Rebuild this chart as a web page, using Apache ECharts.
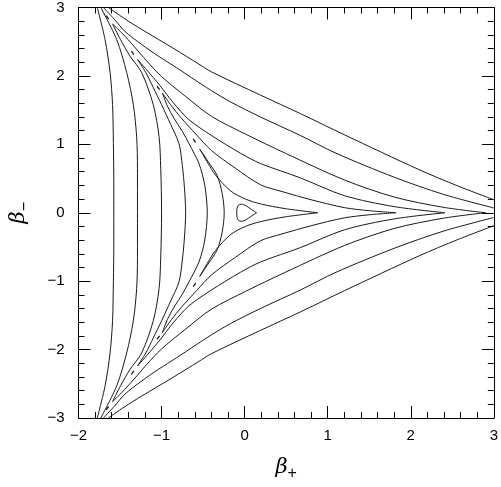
<!DOCTYPE html>
<html>
<head>
<meta charset="utf-8" />
<title>beta contours</title>
<script src="https://cdn.jsdelivr.net/npm/echarts@6/dist/echarts.min.js"></script>
<style>
  html, body { margin: 0; padding: 0; background: #fff; }
  #chart { width: 501px; height: 487px; }
</style>
</head>
<body>
<div id="chart"></div>
<script>
// axis ranges / ticks
var xRange = [-2, 3];
var yRange = [-3, 3];

// contour pieces, [beta+, beta-]
// smallest closed loop round the minimum
var loop1 = [[0.143,0],[0.08,0.05],[0.02,0.10],[-0.04,0.125],[-0.075,0.11],[-0.092,0.06],[-0.095,0],
  [-0.092,-0.06],[-0.075,-0.11],[-0.04,-0.125],[0.02,-0.10],[0.08,-0.05],[0.143,0]];

// upper right walls (from top / channel tip towards the right)
var wallA = [[-1.64,3.0],[-1.45,2.84],[-1.24,2.68],[-0.84,2.39],[-0.56,2.18],[-0.40,2.06],[0.19,1.72],[0.67,1.45],[1.20,1.14],[2.10,0.63],[2.57,0.39],[3.0,0.19]];
var wallB = [[-1.70,3.0],[-1.57,2.83],[-1.44,2.65],[-1.24,2.46],[-1.04,2.29],[-0.82,2.12],[-0.64,1.975],[-0.40,1.785],[-0.17,1.62],[0.19,1.40],[0.67,1.13],[1.10,0.87],[1.80,0.52],[2.39,0.27],[3.0,0.07]];
var wallC = [[-1.59,2.76],[-1.48,2.63],[-1.33,2.43],[-1.18,2.22],[-1.00,1.99],[-0.72,1.71],[-0.40,1.41],[0.01,1.15],[0.49,0.87],[1.20,0.48],[1.80,0.23],[2.39,0.08],[2.90,0.0]];
var wallD = [[-1.29,2.24],[-1.18,2.09],[-1.02,1.86],[-0.86,1.61],[-0.67,1.36],[-0.40,1.13],[-0.05,0.87],[0.19,0.72],[0.67,0.51],[1.20,0.25],[1.80,0.09],[2.41,0.0]];
var wallE = [[-0.99,1.75],[-0.88,1.56],[-0.76,1.38],[-0.58,1.14],[-0.40,0.91],[-0.11,0.65],[0.19,0.41],[0.45,0.31],[0.80,0.19],[1.20,0.075],[1.50,0.03],[1.82,0.0]];
var wallF = [[-0.54,0.93],[-0.44,0.72],[-0.35,0.55],[-0.17,0.32],[0.01,0.20],[0.19,0.13],[0.49,0.06],[0.88,0.0]];

// lower right walls
var wallA2 = [[-1.64,-3.0],[-1.45,-2.84],[-1.24,-2.68],[-0.84,-2.39],[-0.56,-2.18],[-0.40,-2.06],[0.19,-1.72],[0.67,-1.45],[1.20,-1.14],[2.10,-0.63],[2.57,-0.39],[3.0,-0.19]];
var wallB2 = [[-1.70,-3.0],[-1.57,-2.83],[-1.44,-2.65],[-1.24,-2.46],[-1.04,-2.29],[-0.82,-2.12],[-0.64,-1.975],[-0.40,-1.785],[-0.17,-1.62],[0.19,-1.40],[0.67,-1.13],[1.10,-0.87],[1.80,-0.52],[2.39,-0.27],[3.0,-0.07]];
var wallC2 = [[-1.59,-2.76],[-1.48,-2.63],[-1.33,-2.43],[-1.18,-2.22],[-1.00,-1.99],[-0.72,-1.71],[-0.40,-1.41],[0.01,-1.15],[0.49,-0.87],[1.20,-0.48],[1.80,-0.23],[2.39,-0.08],[2.90,0.0]];
var wallD2 = [[-1.29,-2.24],[-1.18,-2.09],[-1.02,-1.86],[-0.86,-1.61],[-0.67,-1.36],[-0.40,-1.13],[-0.05,-0.87],[0.19,-0.72],[0.67,-0.51],[1.20,-0.25],[1.80,-0.09],[2.41,0.0]];
var wallE2 = [[-0.99,-1.75],[-0.88,-1.56],[-0.76,-1.38],[-0.58,-1.14],[-0.40,-0.91],[-0.11,-0.65],[0.19,-0.41],[0.45,-0.31],[0.80,-0.19],[1.20,-0.075],[1.50,-0.03],[1.82,0.0]];
var wallF2 = [[-0.54,-0.93],[-0.44,-0.72],[-0.35,-0.55],[-0.17,-0.32],[0.01,-0.20],[0.19,-0.13],[0.49,-0.06],[0.88,0.0]];

// left walls, top to bottom
var left1 = [[-1.774,3.0],[-1.68,2.53],[-1.62,2.05],[-1.59,1.58],[-1.58,1.01],[-1.575,0.44],[-1.575,0],[-1.575,-0.44],[-1.58,-1.01],[-1.59,-1.58],[-1.62,-2.05],[-1.68,-2.53],[-1.774,-3.0]];
var left2 = [[-1.732,3.0],[-1.54,2.53],[-1.42,2.05],[-1.34,1.58],[-1.30,1.11],[-1.29,0.65],[-1.29,0],[-1.29,-0.65],[-1.30,-1.11],[-1.34,-1.58],[-1.42,-2.05],[-1.54,-2.53],[-1.732,-3.0]];
var left3 = [[-1.59,2.76],[-1.494,2.53],[-1.38,2.29],[-1.24,2.05],[-1.10,1.58],[-1.03,1.11],[-1.01,0.65],[-1.0,0],[-1.01,-0.65],[-1.03,-1.11],[-1.10,-1.58],[-1.24,-2.05],[-1.38,-2.29],[-1.494,-2.53],[-1.59,-2.76]];
var left4 = [[-1.29,2.24],[-1.19,2.05],[-1.10,1.83],[-1.00,1.58],[-0.89,1.29],[-0.79,1.01],[-0.75,0.69],[-0.725,0.37],[-0.71,0],[-0.725,-0.37],[-0.75,-0.69],[-0.79,-1.01],[-0.89,-1.29],[-1.00,-1.58],[-1.10,-1.83],[-1.19,-2.05],[-1.29,-2.24]];
var left5 = [[-0.99,1.75],[-0.93,1.56],[-0.85,1.38],[-0.75,1.19],[-0.67,1.01],[-0.55,0.72],[-0.48,0.40],[-0.45,0],[-0.48,-0.40],[-0.55,-0.72],[-0.67,-1.01],[-0.75,-1.19],[-0.85,-1.38],[-0.93,-1.56],[-0.99,-1.75]];
var left6 = [[-0.54,0.93],[-0.44,0.75],[-0.33,0.54],[-0.27,0.28],[-0.246,0],[-0.27,-0.28],[-0.33,-0.54],[-0.44,-0.75],[-0.54,-0.93]];

// little dashes left beyond the tips in the two slanted channels
var dashes = [
  [[-1.667,2.882],[-1.637,2.832]], [[-1.363,2.362],[-1.333,2.312]],
  [[-1.054,1.849],[-1.024,1.799]], [[-0.619,1.080],[-0.589,1.030]],
  [[-1.667,-2.882],[-1.637,-2.832]], [[-1.363,-2.362],[-1.333,-2.312]],
  [[-1.054,-1.849],[-1.024,-1.799]], [[-0.619,-1.080],[-0.589,-1.030]]
];

var curves = [loop1, wallA, wallB, wallC, wallD, wallE, wallF,
  wallA2, wallB2, wallC2, wallD2, wallE2, wallF2,
  left1, left2, left3, left4, left5, left6];

var fontName = 'Liberation Sans';
function minus(v) { return String(v).replace('-', '\u2212'); }

var series = [];
for (var i = 0; i < curves.length; i++) {
  series.push({
    type: 'line', data: curves[i], showSymbol: false, smooth: 0.3,
    lineStyle: { color: '#1a1a1a', width: 1 }, silent: true
  });
}
for (var j = 0; j < dashes.length; j++) {
  series.push({
    type: 'line', data: dashes[j], showSymbol: false,
    lineStyle: { color: '#1a1a1a', width: 1.3 }, silent: true
  });
}

var nameRich = {
  b: { fontSize: 21, fontFamily: 'DejaVu Serif', fontStyle: 'italic', color: '#000' },
  s: { fontSize: 16, fontFamily: fontName, color: '#000', padding: [12, 0, 0, 0] }
};

function xAx(pos, showLabel) {
  return {
    type: 'value', position: pos, min: xRange[0], max: xRange[1], interval: 1,
    axisLine: { show: true, onZero: false, lineStyle: { color: '#000', width: 1 } },
    axisTick: { show: true, inside: true, length: 12, lineStyle: { color: '#000' } },
    minorTick: { show: true, splitNumber: 5, length: 6, lineStyle: { color: '#000' } },
    splitLine: { show: false },
    axisLabel: { show: showLabel, color: '#000', fontSize: 15, fontFamily: fontName, margin: 10, formatter: minus },
    name: showLabel ? '{b|\u03b2}{s|+}' : '',
    nameLocation: 'middle', nameGap: 36,
    nameTextStyle: { rich: nameRich }
  };
}
function yAx(pos, showLabel) {
  return {
    type: 'value', position: pos, min: yRange[0], max: yRange[1], interval: 1,
    axisLine: { show: true, onZero: false, lineStyle: { color: '#000', width: 1 } },
    axisTick: { show: true, inside: true, length: 12, lineStyle: { color: '#000' } },
    minorTick: { show: true, splitNumber: 5, length: 6, lineStyle: { color: '#000' } },
    splitLine: { show: false },
    axisLabel: { show: showLabel, color: '#000', fontSize: 15, fontFamily: fontName, margin: 14, formatter: minus },
    name: showLabel ? '{b|\u03b2}{s|\u2212}' : '',
    nameLocation: 'middle', nameGap: 46, nameRotate: 90,
    nameTextStyle: { rich: nameRich }
  };
}

var chart = echarts.init(document.getElementById('chart'), null, { renderer: 'canvas' });
chart.setOption({
  animation: false,
  backgroundColor: '#fff',
  grid: { left: 76, right: 5, top: 1, bottom: 66 },
  xAxis: [xAx('bottom', true), xAx('top', false)],
  yAxis: [yAx('left', true), yAx('right', false)],
  series: series
});
</script>
</body>
</html>
